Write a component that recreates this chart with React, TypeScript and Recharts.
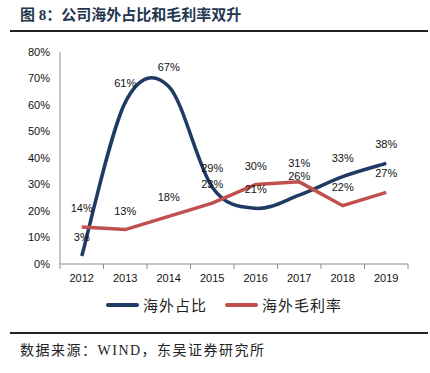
import React from 'react';
import { LineChart, Line, XAxis, YAxis, Legend, LabelList } from 'recharts';

const years = ['2012', '2013', '2014', '2015', '2016', '2017', '2018', '2019'];
const overseasShare = [3, 61, 67, 29, 21, 26, 33, 38]; // 海外占比 (%)
const overseasMargin = [14, 13, 18, 23, 30, 31, 22, 27]; // 海外毛利率 (%)
const yTicks = [0, 10, 20, 30, 40, 50, 60, 70, 80];

const NAVY = '#1F3A64';
const RED = '#C0504D';
const CJK = "'Liberation Serif', 'Noto Sans CJK SC', serif";
const LATIN = "'Liberation Sans', Arial, sans-serif";

const W = 430;
const H = 373;
const PLOT_LEFT = 60;
const PLOT_RIGHT = 22;
const STEP = (W - PLOT_LEFT - PLOT_RIGHT) / years.length;

const data = years.map((year, i) => ({
    year,
    share: overseasShare[i],
    margin: overseasMargin[i],
}));

// Excel-style smoothed line (uniform Catmull-Rom as cubic beziers)
const smoothCurve = (context: any) => {
    let pts: number[][] = [];
    return {
        areaStart() {},
        areaEnd() {},
        lineStart() {
            pts = [];
        },
        point(x: number, y: number) {
            pts.push([+x, +y]);
        },
        lineEnd() {
            const n = pts.length;
            if (!n) return;
            context.moveTo(pts[0][0], pts[0][1]);
            for (let i = 0; i < n - 1; i++) {
                const p0 = pts[i - 1] || pts[i];
                const p1 = pts[i];
                const p2 = pts[i + 1];
                const p3 = pts[i + 2] || pts[i + 1];
                context.bezierCurveTo(
                    p1[0] + (p2[0] - p0[0]) / 6,
                    p1[1] + (p2[1] - p0[1]) / 6,
                    p2[0] - (p3[0] - p1[0]) / 6,
                    p2[1] - (p3[1] - p1[1]) / 6,
                    p2[0],
                    p2[1]
                );
            }
        },
    };
};

const XTick = (props: any) => {
    const { x, y, payload, index } = props;
    const last = index === years.length - 1;
    return (
        <g>
            <line x1={x - STEP / 2} x2={x - STEP / 2} y1={y} y2={y + 5} stroke="#8c8c8c" />
            {last && <line x1={x + STEP / 2} x2={x + STEP / 2} y1={y} y2={y + 5} stroke="#8c8c8c" />}
            <text x={x} y={y + 18} textAnchor="middle" fontSize={11} fill="#111" fontFamily={LATIN}>
                {payload.value}
            </text>
        </g>
    );
};

const LegendContent = () => {
    const items = [
        { name: '海外占比', color: NAVY },
        { name: '海外毛利率', color: RED },
    ];
    return (
        <div style={{ display: 'flex', justifyContent: 'center', alignItems: 'center', paddingLeft: 18 }}>
            {items.map((it, i) => (
                <div key={it.name} style={{ display: 'flex', alignItems: 'center', marginLeft: i ? 18 : 0 }}>
                    <span style={{ display: 'inline-block', width: 33, height: 4, background: it.color, borderRadius: 2 }} />
                    <span style={{ marginLeft: 4, fontSize: 15, letterSpacing: 1, color: '#222', fontFamily: CJK }}>{it.name}</span>
                </div>
            ))}
        </div>
    );
};

export default function App() {
    return (
        <div style={{ position: 'absolute', left: 0, top: 0, width: W, height: H, background: '#fff', fontFamily: CJK }}>
            <div
                style={{
                    position: 'absolute',
                    left: 20,
                    top: 6,
                    lineHeight: '18px',
                    fontSize: 15,
                    fontWeight: 700,
                    color: '#23364f',
                    whiteSpace: 'nowrap',
                }}
            >
                图 8：公司海外占比和毛利率双升
            </div>
            <div style={{ position: 'absolute', left: 10, top: 30, width: 418, height: 2, background: '#222' }} />

            <div style={{ position: 'absolute', left: 0, top: 0 }}>
                <LineChart
                    width={W}
                    height={320}
                    data={data}
                    margin={{ top: 52, right: PLOT_RIGHT, left: 0, bottom: 0 }}
                >
                    <XAxis
                        dataKey="year"
                        height={30}
                        padding={{ left: STEP / 2, right: STEP / 2 }}
                        axisLine={{ stroke: '#8c8c8c' }}
                        tickLine={false}
                        tickSize={0}
                        tickMargin={0}
                        interval={0}
                        tick={<XTick />}
                    />
                    <YAxis
                        width={PLOT_LEFT}
                        domain={[0, 80]}
                        ticks={yTicks}
                        interval={0}
                        tickFormatter={(v: number) => `${v}%`}
                        axisLine={{ stroke: '#8c8c8c' }}
                        tickLine={false}
                        tickMargin={4}
                        tick={{ fontSize: 11, fill: '#111', fontFamily: LATIN }}
                    />
                    <Legend
                        verticalAlign="bottom"
                        height={26}
                        content={<LegendContent />}
                        wrapperStyle={{ left: 0, width: W }}
                    />
                    <Line
                        name="海外占比"
                        dataKey="share"
                        type={smoothCurve as any}
                        stroke={NAVY}
                        strokeWidth={3.5}
                        dot={false}
                        isAnimationActive={false}
                    >
                        <LabelList
                            dataKey="share"
                            position="top"
                            offset={15}
                            formatter={(v: any) => `${v}%`}
                            style={{ fontSize: 11, fill: '#111', fontFamily: LATIN }}
                        />
                    </Line>
                    <Line
                        name="海外毛利率"
                        dataKey="margin"
                        type="linear"
                        stroke={RED}
                        strokeWidth={3.5}
                        dot={false}
                        isAnimationActive={false}
                    >
                        <LabelList
                            dataKey="margin"
                            position="top"
                            offset={15}
                            formatter={(v: any) => `${v}%`}
                            style={{ fontSize: 11, fill: '#111', fontFamily: LATIN }}
                        />
                    </Line>
                </LineChart>
            </div>

            <div style={{ position: 'absolute', left: 10, top: 332, width: 418, height: 2, background: '#222' }} />
            <div
                style={{
                    position: 'absolute',
                    left: 20,
                    top: 342,
                    lineHeight: '18px',
                    fontSize: 14,
                    letterSpacing: 1.5,
                    color: '#222',
                    whiteSpace: 'nowrap',
                }}
            >
                数据来源：WIND，东吴证券研究所
            </div>
        </div>
    );
}
